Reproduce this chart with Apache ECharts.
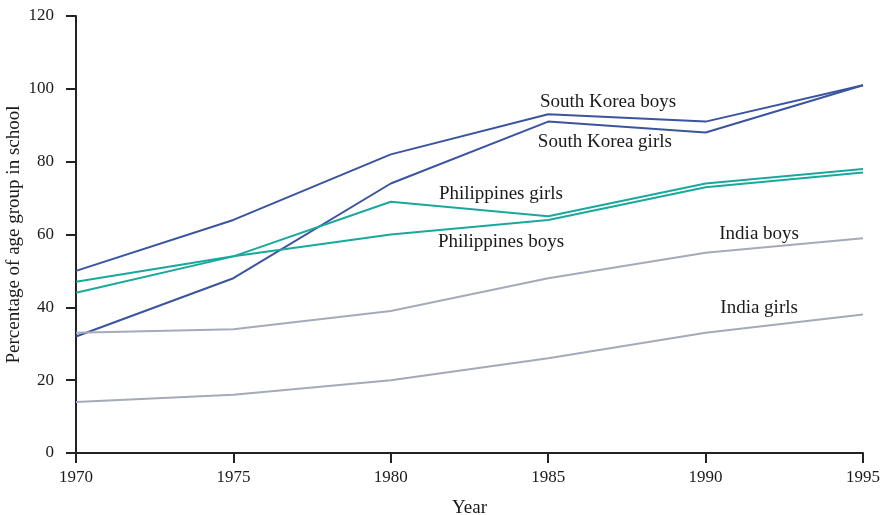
<!DOCTYPE html>
<html>
<head>
<meta charset="utf-8">
<script src="https://cdn.jsdelivr.net/npm/echarts@6/dist/echarts.min.js"></script>
<style>html,body{margin:0;padding:0;background:#fff}#c{width:883px;height:515px}</style>
</head>
<body>
<div id="c"></div>
<script>
var years = [1970, 1975, 1980, 1985, 1990, 1995];
var koreaBoys = [50, 64, 82, 93, 91, 101];
var koreaGirls = [32, 48, 74, 91, 88, 101];
var philGirls = [44, 54, 69, 65, 74, 78];
var philBoys = [47, 54, 60, 64, 73, 77];
var indiaBoys = [33, 34, 39, 48, 55, 59];
var indiaGirls = [14, 16, 20, 26, 33, 38];
var seriesNames = ['South Korea boys', 'South Korea girls', 'Philippines girls', 'Philippines boys', 'India boys', 'India girls'];
var labelYears = [1986.9, 1986.8, 1983.5, 1983.5, 1991.7, 1991.7];
var labelValues = [96.5, 85.4, 71.2, 57.8, 60.2, 39.8];

var blue = '#3a54a0', teal = '#1aa89d', gray = '#a3aab9';
var colors = [blue, blue, teal, teal, gray, gray];
var allData = [koreaBoys, koreaGirls, philGirls, philBoys, indiaBoys, indiaGirls];
var font = 'Liberation Serif';

var series = allData.map(function (vals, i) {
  return {
    name: seriesNames[i],
    type: 'line',
    data: years.map(function (y, j) { return [y, vals[j]]; }),
    symbol: 'none',
    lineStyle: { color: colors[i], width: 2 },
    itemStyle: { color: colors[i] },
    z: 2,
    markPoint: {
      symbol: 'circle',
      symbolSize: 0,
      silent: true,
      data: [{ coord: [labelYears[i], labelValues[i]], value: seriesNames[i] }],
      label: {
        show: true,
        position: 'inside',
        formatter: seriesNames[i],
        color: '#1a1a1a',
        fontFamily: font,
        fontSize: 19
      }
    }
  };
});

var chart = echarts.init(document.getElementById('c'));
chart.setOption({
  animation: false,
  backgroundColor: '#fff',
  grid: { left: 76, right: 20, top: 16, bottom: 62, containLabel: false, outerBoundsMode: 'none' },
  xAxis: {
    type: 'value',
    min: 1970, max: 1995, interval: 5,
    name: 'Year',
    nameLocation: 'middle',
    nameGap: 46,
    nameTextStyle: { fontFamily: font, fontSize: 19, color: '#1a1a1a' },
    axisLine: { lineStyle: { color: '#222', width: 2 } },
    axisTick: { length: 10, lineStyle: { color: '#222', width: 2 } },
    axisLabel: { fontFamily: font, fontSize: 17, color: '#1a1a1a', margin: 16, formatter: function (v) { return String(v); } },
    splitLine: { show: false }
  },
  yAxis: {
    type: 'value',
    min: 0, max: 120, interval: 20,
    name: 'Percentage of age group in school',
    nameLocation: 'middle',
    nameGap: 52,
    nameMoveOverlap: false,
    nameRotate: 90,
    nameTextStyle: { fontFamily: font, fontSize: 19, color: '#1a1a1a' },
    axisLine: { show: true, lineStyle: { color: '#222', width: 2 } },
    axisTick: { show: true, length: 10, lineStyle: { color: '#222', width: 2 } },
    axisLabel: { fontFamily: font, fontSize: 17, color: '#1a1a1a', margin: 22 },
    splitLine: { show: false }
  },
  series: series
});
</script>
</body>
</html>
